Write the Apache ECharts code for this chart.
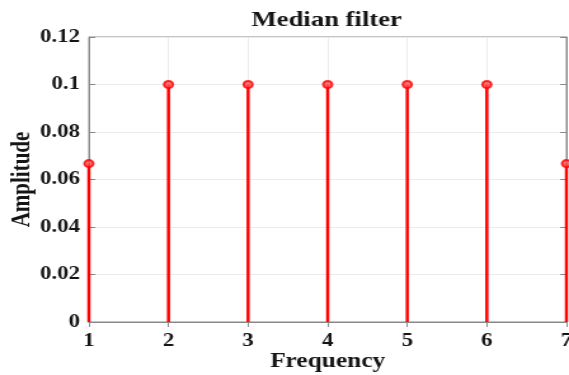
<!DOCTYPE html>
<html>
<head>
<meta charset="utf-8">
<script src="https://cdn.jsdelivr.net/npm/echarts@6/dist/echarts.min.js"></script>
<style>
html,body{margin:0;padding:0;background:#fff;overflow:hidden;}
#wrap{width:569px;height:375px;overflow:hidden;}
#chart{width:448px;height:375px;transform:scaleX(1.2701);transform-origin:0 0;}
</style>
</head>
<body>
<div id="wrap"><div id="chart"></div></div>
<script>
const frequencies = [1, 2, 3, 4, 5, 6, 7];
const amplitudes = [0.0667, 0.1, 0.1, 0.1, 0.1, 0.1, 0.0667];
const titleText = 'Median filter';
const xName = 'Frequency';
const yName = 'Amplitude';

const pts = frequencies.map((f, i) => [f, amplitudes[i]]);
const font = 'Liberation Serif, Times New Roman, serif';
const axisColor = '#888';
const gridColor = '#ebebeb';
const textColor = '#151515';

const chart = echarts.init(document.getElementById('chart'));
chart.setOption({
  animation: false,
  title: {
    text: titleText, left: 193, top: 5,
    textStyle: {fontFamily: font, fontWeight: 'bold', fontSize: 21, color: textColor}
  },
  grid: {left: 70, right: 2, top: 37, bottom: 53, show: true, borderColor: axisColor, borderWidth: 1,
    containLabel: false, outerBoundsMode: 'none'},
  xAxis: [{
    type: 'value', min: 1, max: 7, interval: 1,
    name: xName, nameLocation: 'middle', nameGap: 30, nameMoveOverlap: false,
    nameTextStyle: {fontFamily: font, fontWeight: 'bold', fontSize: 20, color: textColor},
    axisLine: {show: true, lineStyle: {color: axisColor}},
    axisTick: {show: true, inside: true, length: 5, lineStyle: {color: axisColor}},
    axisLabel: {fontFamily: font, fontWeight: 'bold', fontSize: 18, color: textColor, margin: 10},
    splitLine: {show: true, lineStyle: {color: gridColor}}
  }, {
    type: 'value', min: 1, max: 7, interval: 1, position: 'top',
    axisLine: {show: true, lineStyle: {color: axisColor}},
    axisTick: {show: true, inside: true, length: 5, lineStyle: {color: axisColor}},
    axisLabel: {show: false}, splitLine: {show: false}
  }],
  yAxis: [{
    type: 'value', min: 0, max: 0.12, interval: 0.02,
    name: yName, nameLocation: 'middle', nameGap: 42, nameMoveOverlap: false,
    nameTextStyle: {fontFamily: font, fontWeight: 'bold', fontSize: 21, color: textColor},
    axisLine: {show: true, lineStyle: {color: axisColor}},
    axisTick: {show: true, inside: true, length: 5, lineStyle: {color: axisColor}},
    axisLabel: {fontFamily: font, fontWeight: 'bold', fontSize: 18, color: textColor, margin: 7,
      formatter: v => String(parseFloat(v.toFixed(2)))},
    splitLine: {show: true, lineStyle: {color: gridColor}}
  }, {
    type: 'value', min: 0, max: 0.12, interval: 0.02, position: 'right',
    axisLine: {show: true, lineStyle: {color: axisColor}},
    axisTick: {show: true, inside: true, length: 5, lineStyle: {color: axisColor}},
    axisLabel: {show: false}, splitLine: {show: false}
  }],
  series: [{
    type: 'bar', data: pts, barWidth: 2.5, clip: false,
    itemStyle: {color: '#ff0000'}, z: 3
  }, {
    type: 'scatter', data: pts, symbol: 'circle', symbolSize: 7, clip: false,
    itemStyle: {color: '#ff5050', borderColor: '#ff0000', borderWidth: 2}, z: 4
  }]
});
</script>
</body>
</html>
